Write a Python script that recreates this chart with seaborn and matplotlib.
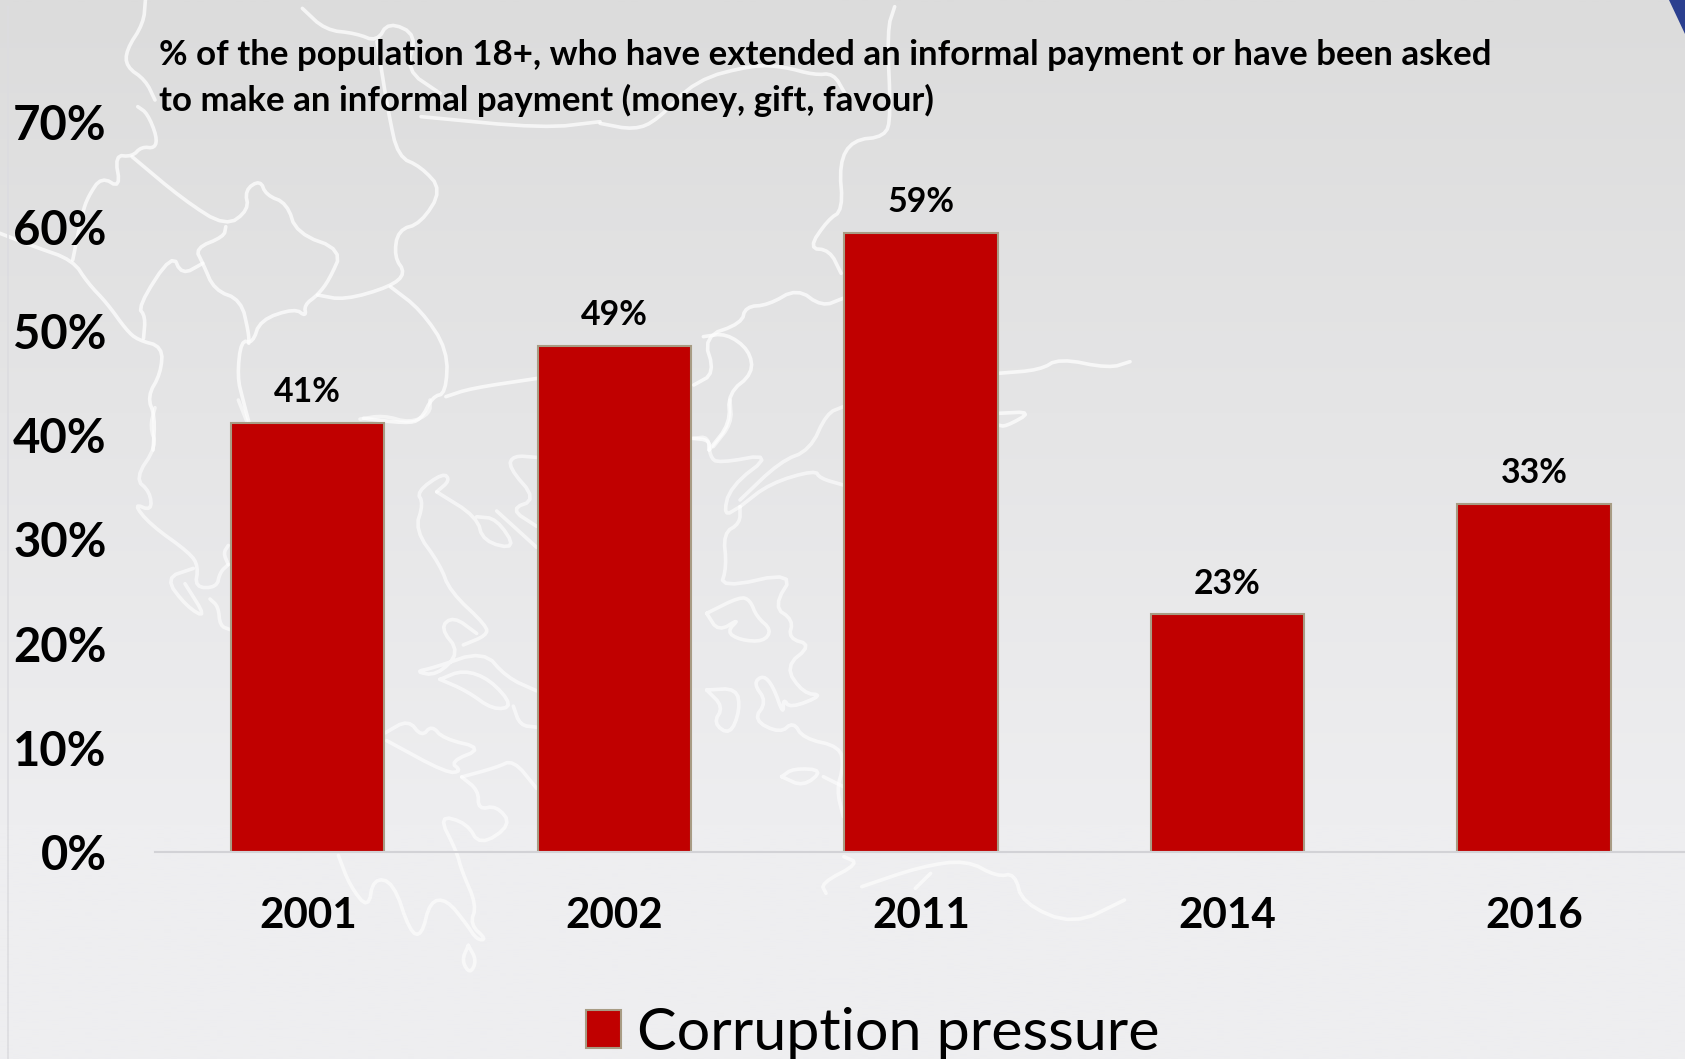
import numpy as np
import pandas as pd
import matplotlib.pyplot as plt
import seaborn as sns

# ── Data ───────────────────────────────────────────────────
years = ['2001', '2002', '2011', '2014', '2016']
pressure = [41.2, 48.6, 59.4, 22.8, 33.4]
value_labels = ['41%', '49%', '59%', '23%', '33%']
y_ticks = [0, 10, 20, 30, 40, 50, 60, 70]
series_name = 'Corruption pressure'
note = ('% of the population 18+, who have extended an informal payment or have been asked\n'
        'to make an informal payment (money, gift, favour)')

# ── Styling ────────────────────────────────────────────────
sns.set_theme(style='white')
plt.rcParams['font.family'] = ['Lato', 'DejaVu Sans']
W, H = 1685, 1059
RED = '#c00000'
EDGE = '#a89c84'

# ── Backdrop map, traced by hand (decoration only) ─────────
# each entry: crop origin x, y, crop scale x, y, then the outlines in crop pixels
map_traces = [
    (0, 0, 2.613, 3, [
        [(380, 0), (375, 70), (330, 150), (330, 200), (380, 240), (405, 300)],
        [(360, 320), (385, 340), (410, 410), (405, 445), (370, 440), (345, 470), (300, 465), (315, 565),
         (265, 530), (230, 590), (215, 640), (190, 780)],
        [(345, 470), (480, 600), (590, 680), (650, 630), (640, 570), (680, 540), (695, 585), (750, 610),
         (775, 700), (895, 750), (860, 840), (830, 885), (795, 915), (800, 950), (770, 925), (680, 960),
         (660, 1030), (630, 1020), (620, 1130), (635, 1200), (650, 1265)],
        [(590, 680), (585, 710), (510, 745), (530, 790), (560, 870), (630, 900), (650, 1000), (650, 1030)],
        [(530, 790), (475, 825), (450, 760), (360, 920), (380, 950), (375, 1015)],
        [(0, 700), (90, 740), (190, 780), (230, 850), (280, 910), (330, 990), (360, 1020), (425, 1040),
         (420, 1120), (385, 1190), (405, 1250), (400, 1350)],
        [(790, 25), (850, 90), (930, 100), (985, 125), (1015, 65), (1090, 105), (1060, 210), (1150, 280)],
        [(985, 125), (1015, 340), (1040, 470), (1100, 500), (1155, 570), (1100, 670), (1040, 690),
         (1030, 770), (1060, 820), (1020, 860), (900, 900), (830, 885)],
        [(1020, 860), (1100, 930), (1170, 1050), (1165, 1180), (1130, 1190), (1100, 1260), (1060, 1270),
         (950, 1255)],
        [(1165, 1190), (1230, 1165), (1405, 1135)],
        [(1100, 350), (1420, 385), (1568, 365)],
    ]),
    (600, 0, 2.613, 3, [
        [(0, 370), (90, 390), (150, 360), (250, 240), (400, 195), (480, 200), (560, 225), (610, 220), (640, 280)],
        [(770, 20), (750, 90), (760, 350), (745, 410), (660, 420), (625, 490), (635, 630), (595, 660),
         (545, 745), (600, 750), (630, 820)],
        [(635, 895), (580, 920), (515, 865), (440, 915), (380, 920), (370, 970), (270, 1010), (300, 1120),
         (245, 1155)],
        [(270, 1010), (330, 1000), (390, 1050), (400, 1120), (335, 1180), (340, 1270), (285, 1350)],
        [(240, 1315), (285, 1320), (285, 1350)],
        [(1040, 1120), (1150, 1110), (1200, 1075), (1330, 1105), (1385, 1085)],
        [(1040, 1240), (1130, 1235), (1060, 1280), (1040, 1275)],
    ]),
    (660, 400, 3, 3, [
        [(100, 115), (145, 110), (150, 170), (175, 190), (340, 160), (210, 260), (190, 350), (240, 320)],
        [(240, 320), (240, 370), (190, 400), (200, 500), (180, 565), (405, 515), (340, 620), (400, 660),
         (385, 715), (455, 735), (375, 800), (430, 880), (490, 885), (390, 925), (370, 895), (370, 945),
         (340, 860), (310, 825), (280, 850), (320, 905), (280, 960), (360, 1000), (400, 965), (430, 1015),
         (540, 1040), (550, 1100), (530, 1170), (550, 1250)],
        [(210, 0), (215, 70), (160, 140)],
        [(550, 20), (500, 40), (450, 150), (360, 185), (240, 300)],
        [(550, 255), (480, 235), (465, 210), (330, 250), (240, 320)],
        [(140, 640), (240, 590), (270, 600), (290, 650), (335, 690), (310, 725), (240, 720), (200, 695),
         (240, 655), (175, 695), (140, 640)],
        [(140, 870), (230, 865), (240, 930), (210, 1005), (160, 970), (190, 920), (140, 870)],
        [(365, 1130), (400, 1105), (490, 1110), (430, 1160), (365, 1130)],
        [(490, 1130), (550, 1160)],
    ]),
    (100, 400, 3, 2.613, [
        [(165, 20), (150, 70), (170, 120), (105, 205), (150, 240), (155, 290), (100, 270), (150, 325),
         (270, 400), (295, 435), (285, 490), (350, 490), (360, 450), (385, 430)],
        [(280, 440), (195, 465), (260, 540), (320, 570), (255, 480)],
        [(385, 380), (370, 400), (385, 430)],
        [(330, 520), (355, 540), (360, 590), (390, 600)],
        [(415, 0), (440, 55)],
        [(780, 50), (850, 40), (930, 60), (990, 35), (990, 0)],
        [(1010, 240), (1050, 210), (1030, 190), (950, 240), (970, 270), (945, 340), (1020, 430), (1050, 500),
         (1160, 590), (1160, 615), (1090, 640)],
        [(1010, 240), (1130, 305), (1150, 370), (1250, 390), (1190, 310), (1130, 305)],
        [(1190, 290), (1310, 385)],
        [(1310, 150), (1240, 145), (1225, 175), (1310, 260), (1230, 285), (1310, 330)],
        [(1130, 610), (1060, 565), (1020, 595), (1080, 660), (1010, 720), (945, 710), (1000, 700), (1150, 655),
         (1220, 725), (1310, 760)],
        [(1020, 730), (1090, 705), (1170, 730), (1240, 800), (1180, 810), (1100, 760), (1020, 730)],
        [(1240, 800), (1260, 850), (1310, 855)],
        [(855, 870), (925, 835), (965, 880), (995, 850), (1030, 885), (1150, 910), (1050, 945), (1085, 970),
         (1040, 975), (860, 890)],
        [(1085, 985), (1190, 960), (1240, 940), (1310, 1015)],
        [(1085, 985), (1135, 1020), (1135, 1070), (1190, 1060), (1235, 1110), (1140, 1165), (1100, 1105),
         (1015, 1085), (1070, 1180), (1085, 1230), (1130, 1320), (1110, 1370), (1160, 1410), (1130, 1410),
         (1100, 1370), (1040, 1305), (990, 1310), (965, 1400), (930, 1390), (880, 1260), (820, 1250),
         (805, 1330), (750, 1270), (715, 1190)],
        [(1105, 1425), (1130, 1465), (1110, 1500), (1085, 1465), (1105, 1425)],
    ]),
    (400, 760, 1.96, 3, [
        [(870, 290), (900, 310), (825, 370), (835, 400)],
        [(905, 380), (1020, 320), (1110, 300), (1170, 350), (1205, 340), (1220, 430), (1320, 495), (1420, 420)],
        [(1010, 385), (1040, 340)],
    ]),
]


def round_corners(pts, passes=2):
    # corner cutting, so the hand traced outlines don't look like polygons
    for _ in range(passes):
        a, b = pts[:-1], pts[1:]
        cut = np.empty((2 * len(a), 2))
        cut[0::2] = 0.75 * a + 0.25 * b
        cut[1::2] = 0.25 * a + 0.75 * b
        pts = np.vstack([pts[:1], cut, pts[-1:]])
    return pts


fig = plt.figure(figsize=(W / 100, H / 100), dpi=100)

bg = fig.add_axes([0, 0, 1, 1], zorder=0)
shade = np.linspace(0, 1, 256).reshape(-1, 1)
shade = np.clip(shade / 0.78, 0, 1)
top, bottom = np.array([220, 220, 220]), np.array([238, 238, 240])
gradient = (top + (bottom - top) * shade[..., None]) / 255
bg.imshow(gradient, extent=(0, W, H, 0), aspect='auto', interpolation='bilinear')
for ox, oy, sx, sy, outlines in map_traces:
    for line in outlines:
        pts = round_corners(np.array(line, dtype=float))
        fade = 0.72 if oy < 400 else 0.6
        bg.plot(ox + pts[:, 0] / sx, oy + pts[:, 1] / sy, color='white', lw=2.6, alpha=fade,
                solid_joinstyle='round', solid_capstyle='round')
bg.plot([8, 8], [6, H], color='#dcdce0', lw=1.2)
bg.fill([1669, 1685, 1685], [0, 0, 34], color='#2b3f8f', lw=0)
bg.set_xlim(0, W)
bg.set_ylim(H, 0)
bg.axis('off')

# ── Bars ───────────────────────────────────────────────────
df = pd.DataFrame({'year': years, 'pressure': pressure})
ax = fig.add_axes([154.6 / W, (H - 852) / H, (W - 154.6) / W, (852 - 122.5) / H], zorder=1)
ax.patch.set_alpha(0)
sns.barplot(data=df, x='year', y='pressure', color=RED, saturation=1, width=0.5,
            edgecolor=EDGE, linewidth=1.5, label=series_name, ax=ax)
ax.set_xlim(-0.5, 4.493)
ax.set_ylim(0, 70)
ax.set_xlabel('')
ax.set_ylabel('')
ax.set_yticks(y_ticks)
ax.set_yticklabels([f'{v}%' for v in y_ticks], fontsize=34, fontweight='bold', color='black')
ax.tick_params(axis='y', length=0, pad=34.5)
ax.tick_params(axis='x', length=0, pad=32.5, labelsize=30.3, labelcolor='black')
for lab in ax.get_xticklabels():
    lab.set_fontweight('bold')
sns.despine(ax=ax, left=True)
ax.spines['bottom'].set_color('#d2d2d6')
ax.spines['bottom'].set_linewidth(1.5)
ax.bar_label(ax.containers[0], labels=value_labels, padding=10.5, fontsize=24.4, fontweight='bold', color='black')

ax.text(159 / W, (H - 78) / H, note, transform=fig.transFigure, fontsize=25.1, fontweight='bold',
        color='black', ha='left', va='center', linespacing=1.47, clip_on=False)

# ── Legend ─────────────────────────────────────────────────
handles, labels = ax.get_legend_handles_labels()
ax.legend(handles, labels, loc='lower left', bbox_to_anchor=(574 / W, -13 / H), bbox_transform=fig.transFigure,
          frameon=False, fontsize=42.7, handlelength=0.6, handleheight=0.6, handletextpad=0.27,
          labelcolor='black', borderpad=0.2, borderaxespad=0)

plt.savefig('out.png', dpi=100, facecolor='white')
